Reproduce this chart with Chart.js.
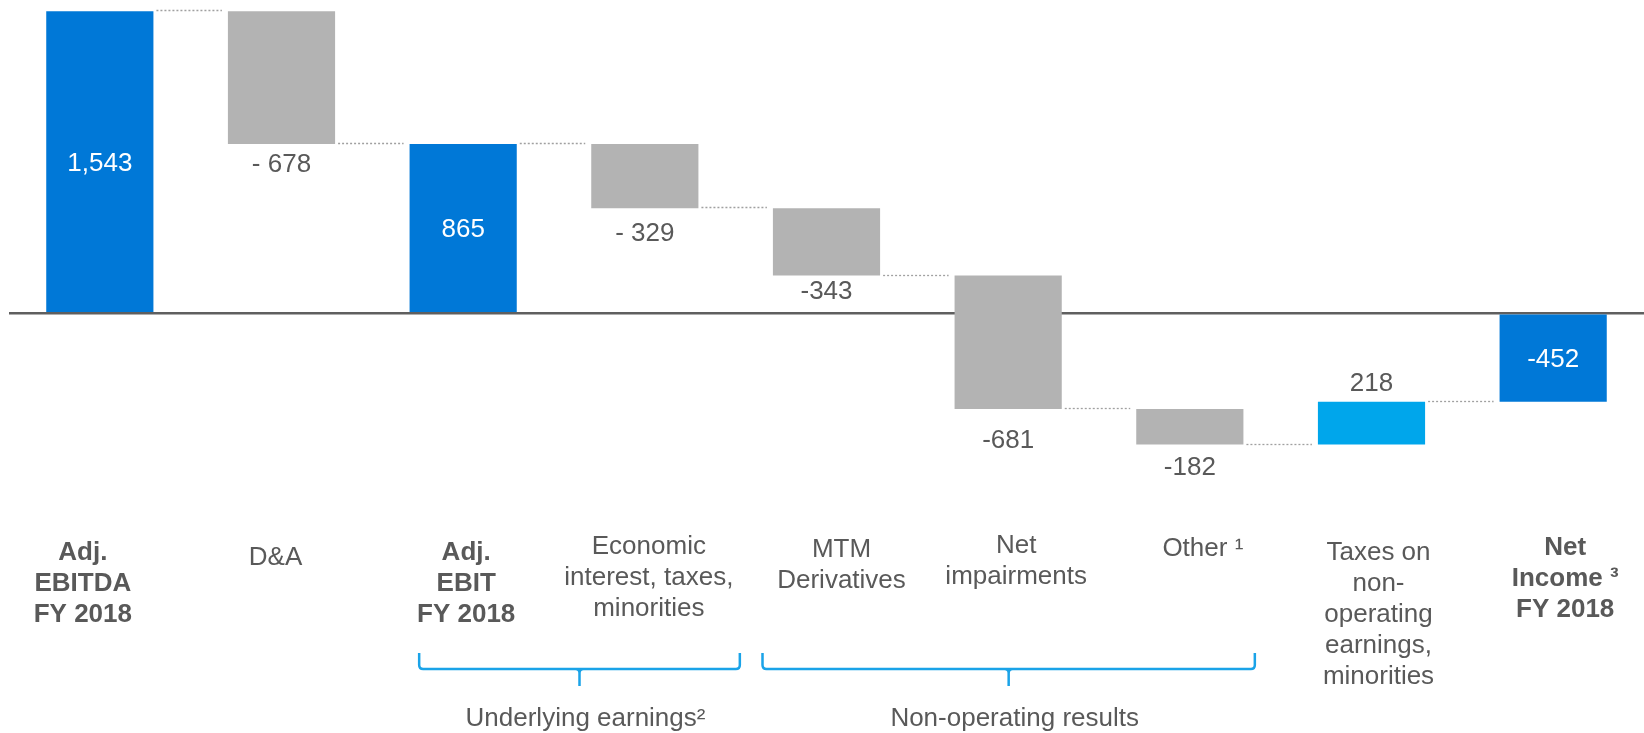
<!DOCTYPE html>
<html>
<head>
  <title>Net Income bridge FY 2018</title>
  <script src="https://cdn.jsdelivr.net/npm/chart.js"></script>
  <style>
    body { margin: 0; background: #fff; }
    canvas { display: block; }
  </style>
</head>
<body>

<canvas id="bridge" width="1644" height="733"></canvas>

<script>
  // data
  const categories = [
    ['Adj.', 'EBITDA', 'FY 2018'],
    ['D&A'],
    ['Adj.', 'EBIT', 'FY 2018'],
    ['Economic', 'interest, taxes,', 'minorities'],
    ['MTM', 'Derivatives'],
    ['Net', 'impairments'],
    ['Other \u00B9'],
    ['Taxes on', 'non-', 'operating', 'earnings,', 'minorities'],
    ['Net', 'Income \u00B3', 'FY 2018']
  ];
  const values = [1543, -678, 865, -329, -343, -681, -182, 218, -452];
  const isTotal = [true, false, true, false, false, false, false, false, true];
  const valueLabels = ['1,543', '- 678', '865', '- 329', '-343', '-681', '-182', '218', '-452'];
  const groups = ['Underlying earnings\u00B2', 'Non-operating results'];
  const groupSpans = [[2, 3], [4, 6]];

  // floating bar ranges from running totals
  let running = 0;
  const ends = [];
  const ranges = values.map((v, i) => {
    if (isTotal[i]) { running = v; ends.push(v); return [0, v]; }
    const start = running;
    running += v;
    ends.push(running);
    return [start, running];
  });

  const FONT = "'Liberation Sans', Arial, sans-serif";
  const TEXT = '#595959';

  function barColor(i) {
    if (isTotal[i]) return '#0078D7';
    return values[i] < 0 ? '#B3B3B3' : '#00A6EB';
  }

  // small text nudges so labels sit like in the slide
  const textShift = 2;
  const valueGap = [0, 19, 0, 23, 14, 30, 21, 20, 0];
  const labelDx = [-17, -6, 3, 4, 15, 8, 13, 7, 12];
  const labelY = [551, 556, 551, 545, 548, 544, 547, 551, 546];
  const lineH = 31;
  const bracketEdges = [[-44, 95], [-64, 65]];

  const bridgeDecor = {
    id: 'bridgeDecor',
    afterDatasetsDraw(chart) {
      const { ctx, scales: { y } } = chart;
      const bars = chart.getDatasetMeta(0).data;
      ctx.save();

      // dotted connectors
      ctx.strokeStyle = '#A0A0A0';
      ctx.lineWidth = 1.3;
      ctx.setLineDash([2, 2]);
      for (let i = 0; i < bars.length - 1; i++) {
        const a = bars[i], b = bars[i + 1];
        const yy = Math.round(y.getPixelForValue(ends[i])) - 0.5;
        ctx.beginPath();
        ctx.moveTo(a.x + a.width / 2 + 3, yy);
        ctx.lineTo(b.x - b.width / 2 - 6, yy);
        ctx.stroke();
      }
      ctx.setLineDash([]);

      // value labels
      ctx.textAlign = 'center';
      ctx.textBaseline = 'middle';
      ctx.font = '26px ' + FONT;
      bars.forEach((bar, i) => {
        const top = Math.min(bar.y, bar.base);
        const bottom = Math.max(bar.y, bar.base);
        let ty;
        if (isTotal[i]) ty = (top + bottom) / 2;
        else if (values[i] < 0) ty = bottom + valueGap[i];
        else ty = top - valueGap[i];
        ctx.fillStyle = isTotal[i] ? '#FFFFFF' : TEXT;
        ctx.fillText(valueLabels[i], bar.x, ty + textShift);
      });

      // category labels
      ctx.fillStyle = TEXT;
      categories.forEach((lines, i) => {
        ctx.font = (isTotal[i] ? 'bold ' : '') + '26px ' + FONT;
        lines.forEach((line, j) => {
          ctx.fillText(line, bars[i].x + labelDx[i], labelY[i] + j * lineH + textShift);
        });
      });

      // brackets and group names
      ctx.strokeStyle = '#1AA3E8';
      ctx.lineWidth = 2.5;
      groupSpans.forEach(([from, to], g) => {
        const L = bars[from].x + bracketEdges[g][0];
        const R = bars[to].x + bracketEdges[g][1];
        const M = (L + R) / 2;
        const top = 653, mid = 669, tip = 686;
        ctx.beginPath();
        ctx.moveTo(L, top);
        ctx.lineTo(L, mid - 4);
        ctx.quadraticCurveTo(L, mid, L + 4, mid);
        ctx.lineTo(R - 4, mid);
        ctx.quadraticCurveTo(R, mid, R, mid - 4);
        ctx.lineTo(R, top);
        ctx.moveTo(M - 4, mid);
        ctx.quadraticCurveTo(M, mid, M, mid + 4);
        ctx.lineTo(M, tip);
        ctx.moveTo(M + 4, mid);
        ctx.quadraticCurveTo(M, mid, M, mid + 4);
        ctx.stroke();

        ctx.font = '26px ' + FONT;
        ctx.fillStyle = TEXT;
        ctx.fillText(groups[g], M + 6, 717 + textShift);
      });

      ctx.restore();
    }
  };

  new Chart(document.getElementById('bridge'), {
    type: 'bar',
    data: {
      labels: categories.map(c => c.join(' ')),
      datasets: [{
        data: ranges,
        backgroundColor: values.map((v, i) => barColor(i)),
        borderWidth: 0,
        barPercentage: 0.59,
        categoryPercentage: 1
      }]
    },
    options: {
      responsive: false,
      animation: false,
      devicePixelRatio: 1,
      layout: { padding: { left: 9, right: 0, top: 0, bottom: 263 } },
      plugins: {
        legend: { display: false },
        tooltip: { enabled: false }
      },
      scales: {
        x: { display: false },
        y: {
          min: -800,
          max: 1600,
          border: { display: false },
          ticks: { display: false, stepSize: 400 },
          grid: {
            drawTicks: false,
            lineWidth: 2.5,
            color: ctx => ctx.tick && ctx.tick.value === 0 ? '#5F5F5F' : 'rgba(0,0,0,0)'
          }
        }
      }
    },
    plugins: [bridgeDecor]
  });
</script>

</body>
</html>
